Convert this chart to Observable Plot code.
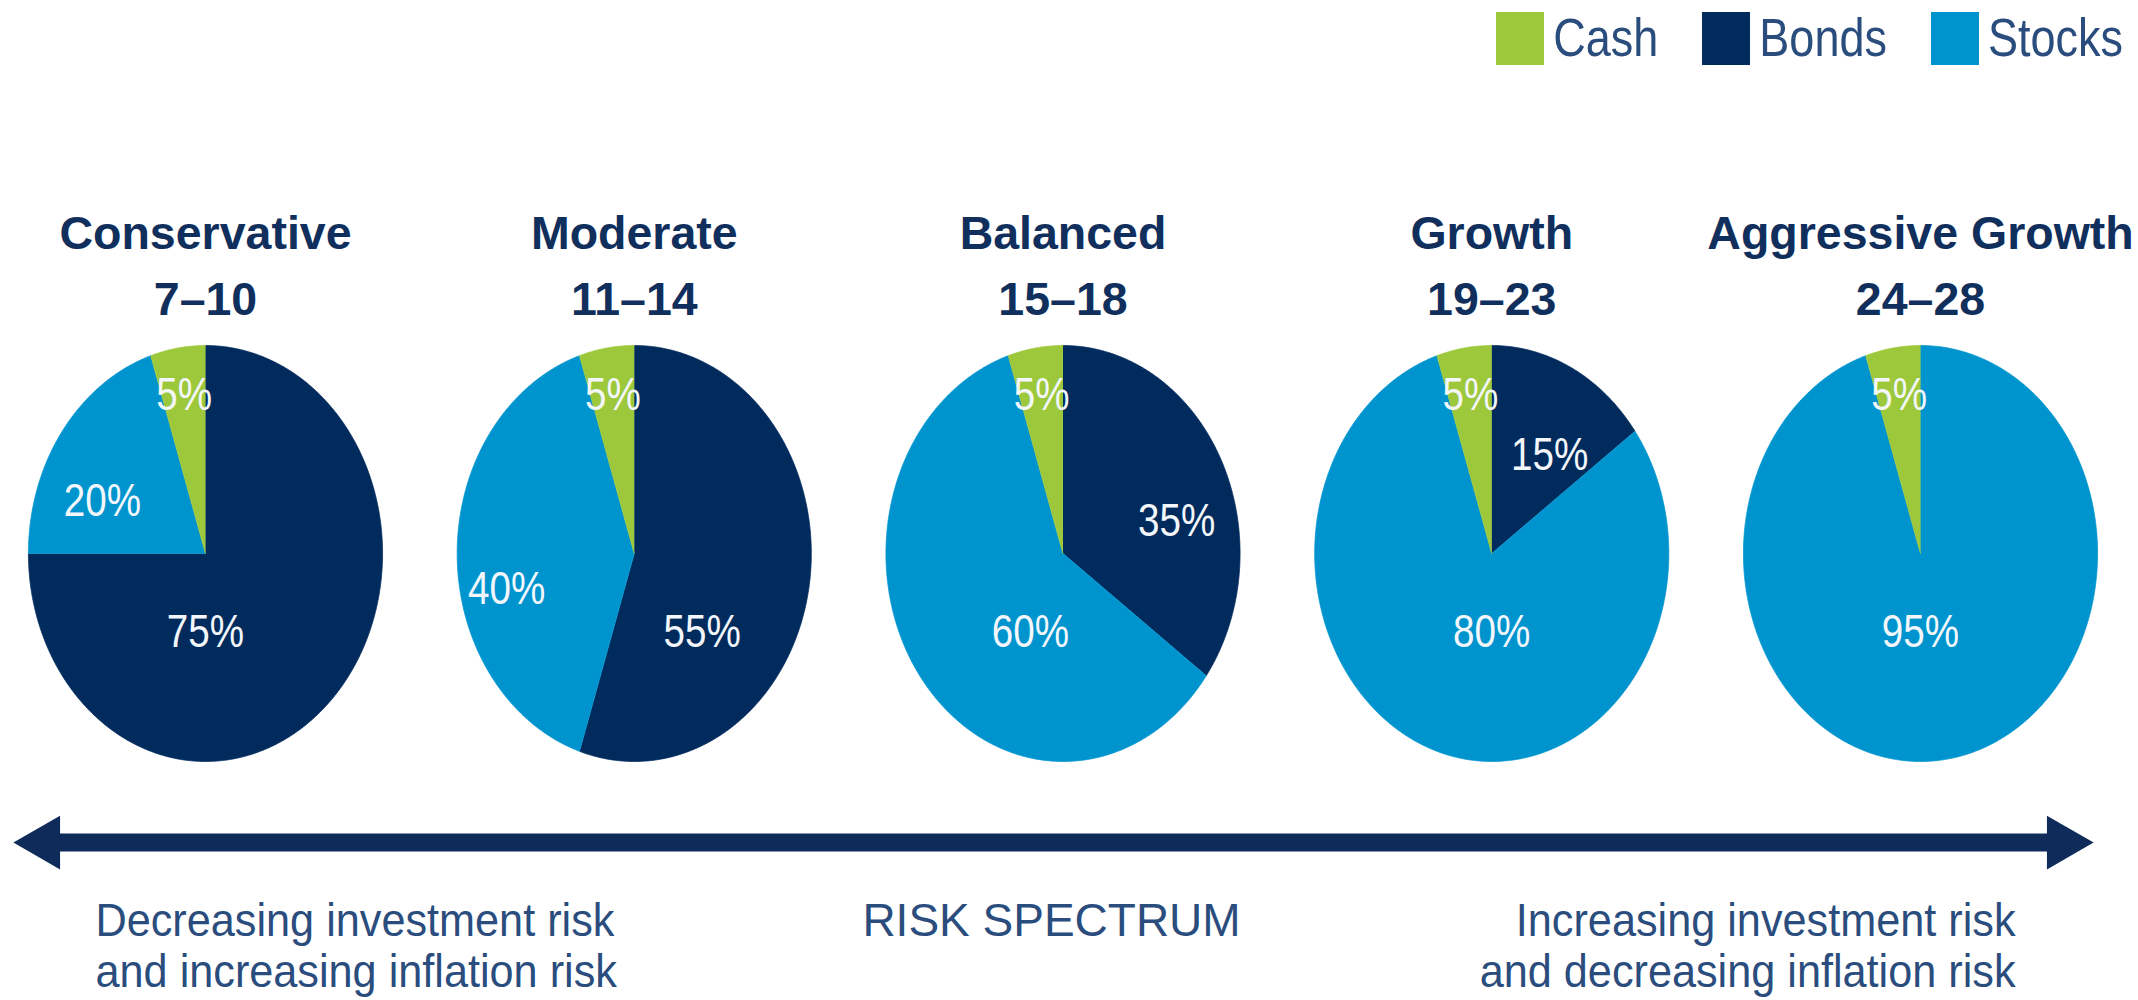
<!DOCTYPE html>
<html>
<head>
<meta charset="utf-8">
<script src="https://cdn.jsdelivr.net/npm/d3@7"></script>
<script src="https://cdn.jsdelivr.net/npm/@observablehq/plot@0.6"></script>
<style>
  html, body { margin: 0; padding: 0; background: #ffffff; }
  #legend { height: 70px; display: flex; justify-content: flex-end; align-items: flex-start;
            padding: 12px 15px 0 0; box-sizing: border-box; }
  div.leg-swatches { font-family: "Liberation Sans", Arial, sans-serif !important; font-size: 45px !important;
                     color: #2a4d7e !important; margin: 0 !important; }
  div.leg-swatches .leg-swatch { margin-right: 44px !important; }
  div.leg-swatches .leg-swatch:last-child { margin-right: 0 !important; }
  div.leg-swatches .leg-swatch > svg { margin-right: 9px !important; }
  .legtxt { display: inline-block; transform: scaleY(1.2); transform-origin: 50% 55%; margin-left: 0; }
  #chart svg { display: block; }
</style>
</head>
<body>
<div id="legend"></div>
<div id="chart"></div>
<script>
// ---------- data ----------
const categories = ["Conservative", "Moderate", "Balanced", "Growth", "Aggressive Growth"];
const scoreRanges = ["7–10", "11–14", "15–18", "19–23", "24–28"];
const assets = ["Cash", "Bonds", "Stocks"];
const cash = [5, 5, 5, 5, 5];
const bonds = [75, 55, 35, 15, 0];
const stocks = [20, 40, 60, 80, 95];
const assetColors = ["#9dc83c", "#022b5d", "#0094cf"];
const leftNote = "Decreasing investment risk\nand increasing inflation risk";
const rightNote = "Increasing investment risk\nand decreasing inflation risk";
const centerNote = "RISK SPECTRUM";

// ---------- styling / layout ----------
const navy = "#0e2b5a";
const titleColor = "#112f5d";
const noteColor = "#2a4d7e";
const RX = 0.413;          // horizontal pie radius in x-units (pies are slightly oval)
const arrowLevel = -1.39;  // arrow position in pie-radius units

// label placement derived from slice geometry
function labelPos(s) {
  const v = s.data.value;
  const mid = (s.startAngle + s.endAngle) / 2;
  if (v < 10) return [0.77 * Math.sin(mid), 0.77 * Math.cos(mid)];
  if (v <= 40) return [0.72 * Math.sin(mid), 0.72 * Math.cos(mid) - 0.17];
  const ny = -0.38, half = Math.sqrt(1 - ny * ny) * 0.96;
  let lo = Infinity, hi = -Infinity;
  for (let k = 0; k <= 400; k++) {
    const nx = -half + (2 * half * k) / 400;
    let a = Math.atan2(nx, ny);
    if (a < 0) a += 2 * Math.PI;
    if (a >= s.startAngle && a <= s.endAngle) { lo = Math.min(lo, nx); hi = Math.max(hi, nx); }
  }
  return [(lo + hi) / 2, ny];
}

const pie = d3.pie().sort(null).value(d => d.value);
const wedgePts = [];
const labels = [];
categories.forEach((cat, i) => {
  const slices = [
    {asset: "Bonds", value: bonds[i]},
    {asset: "Stocks", value: stocks[i]},
    {asset: "Cash", value: cash[i]}
  ];
  pie(slices).forEach(s => {
    if (s.data.value <= 0) return;
    const key = cat + "|" + s.data.asset;
    const asset = s.data.asset;
    const n = Math.max(2, Math.ceil((s.endAngle - s.startAngle) / (Math.PI / 360)));
    wedgePts.push({key, asset, x: i, y: 0});
    for (let k = 0; k <= n; k++) {
      const a = s.startAngle + (s.endAngle - s.startAngle) * k / n;
      wedgePts.push({key, asset, x: i + RX * Math.sin(a), y: Math.cos(a)});
    }
    const [nx, ny] = labelPos(s);
    labels.push({x: i + RX * nx, y: ny, text: s.data.value + "%"});
  });
});
const titles = categories.map((c, i) => ({i, t: c + "\n" + scoreRanges[i]}));

// ---------- legend ----------
const legend = Plot.legend({
  color: {type: "ordinal", domain: assets, range: assetColors},
  legend: "swatches",
  swatchWidth: 48,
  swatchHeight: 53,
  className: "leg"
});
document.getElementById("legend").append(legend);
legend.querySelectorAll("svg").forEach(s => { s.style.marginRight = "9px"; });
legend.querySelectorAll(".leg-swatch").forEach(sw => {
  Array.from(sw.childNodes).forEach(node => {
    if (node.nodeType === 3 && node.textContent.trim()) {
      const span = document.createElement("span");
      span.className = "legtxt";
      span.textContent = node.textContent;
      sw.replaceChild(span, node);
    }
  });
});

// ---------- chart ----------
const chart = Plot.plot({
  width: 2138,
  height: 930,
  margin: 0,
  style: {fontFamily: '"Liberation Sans", Arial, sans-serif', background: "#ffffff"},
  x: {domain: [0, 4], range: [205, 1920], axis: null},
  y: {domain: [-1, 1], range: [691, 275], axis: null},
  color: {domain: assets, range: assetColors},
  marks: [
    Plot.line(wedgePts, {x: "x", y: "y", z: "key", fill: "asset", stroke: "asset", strokeWidth: 0.75, curve: "linear"}),
    Plot.text(labels, {x: "x", y: "y", text: "text", fill: "#f3f7fb", fontSize: 46, lineAnchor: "middle"}),
    Plot.text(titles, {x: "i", text: "t", frameAnchor: "top", dy: 132, lineAnchor: "top",
      fontSize: 46.5, fontWeight: "bold", lineHeight: 1.42, fill: titleColor}),
    Plot.ruleY([arrowLevel], {y: d => d, stroke: navy, strokeWidth: 18, insetLeft: 44, insetRight: 76}),
    Plot.dot([arrowLevel], {y: d => d, frameAnchor: "left", dx: 44, symbol: "triangle", rotate: -90, r: 20, fill: navy, stroke: "none"}),
    Plot.dot([arrowLevel], {y: d => d, frameAnchor: "right", dx: -76, symbol: "triangle", rotate: 90, r: 20, fill: navy, stroke: "none"}),
    Plot.text([leftNote], {text: d => d, frameAnchor: "top-left", dx: 95, dy: 830, textAnchor: "start",
      lineAnchor: "top", fontSize: 46, lineHeight: 1.1, fill: noteColor}),
    Plot.text([centerNote], {text: d => d, frameAnchor: "top", dx: -18, dy: 833, lineAnchor: "top",
      fontSize: 46, fill: noteColor}),
    Plot.text([rightNote], {text: d => d, frameAnchor: "top-right", dx: -123, dy: 830, textAnchor: "end",
      lineAnchor: "top", fontSize: 46, lineHeight: 1.1, fill: noteColor})
  ]
});
document.getElementById("chart").append(chart);

// condensed lettering, as in the original artwork
function condense(el, k) {
  const t = el.getAttribute("transform");
  if (t) {
    el.setAttribute("transform", t + ` scale(${k},1)`);
  } else {
    const x = +el.getAttribute("x") || 0;
    el.setAttribute("transform", `translate(${x},0) scale(${k},1) translate(${-x},0)`);
  }
}
chart.querySelectorAll("text").forEach(el => {
  const s = el.textContent;
  if (/risk/.test(s)) condense(el, 0.94);
  else if (/%$/.test(s)) condense(el, 0.84);
});
</script>
</body>
</html>
